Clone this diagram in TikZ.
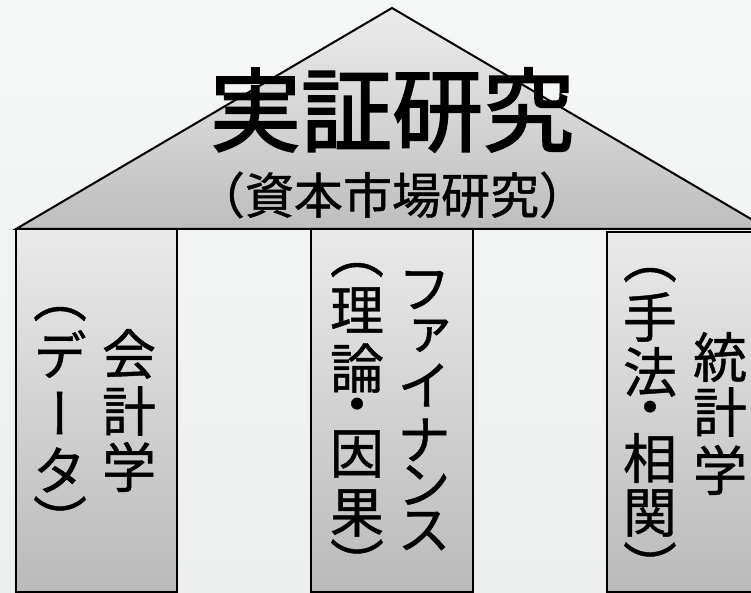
\documentclass[tikz,border=0pt]{standalone}
\usepackage{fontspec}
\newfontfamily\cjk{Noto Sans CJK JP}
\newfontfamily\cjkt[FakeBold=2]{Noto Sans CJK JP}
\newfontfamily\cjks[FakeBold=1]{Noto Sans CJK JP}
\newfontfamily\vcjk[RawFeature=+vert,FakeBold=0.8]{Noto Sans CJK JP}
\definecolor{bgtop}{RGB}{245,248,247}
\definecolor{bgbot}{RGB}{236,239,238}
\definecolor{pilltop}{RGB}{234,234,234}
\definecolor{pillbot}{RGB}{186,186,186}
\definecolor{rooftop}{RGB}{236,236,236}
\definecolor{roofbot}{RGB}{190,190,190}
\begin{document}
\begin{tikzpicture}[x=1pt,y=-1pt,
  roof/.style={draw=black,line width=2pt,line join=miter,top color=rooftop,bottom color=roofbot},
  pillar/.style={draw=black,line width=2pt,top color=pilltop,bottom color=pillbot},
  vch/.style={font=\vcjk\fontsize{54}{54}\selectfont,inner sep=0pt,text=black},
  titlebox/.style={font=\cjkt\fontsize{91}{91}\selectfont,inner sep=0pt},
  subbox/.style={font=\cjks\fontsize{49}{49}\selectfont,inner sep=0pt}]
\useasboundingbox (0,0) rectangle (751,593);
\clip (0,0) rectangle (751,593);
\shade[top color=bgtop,bottom color=bgbot] (0,0) rectangle (751,593);
% roof
\path[roof] (16,229) -- (392,8) -- (768,229) -- cycle;
% pillars
\path[pillar] (16,229) rectangle (177,592);
\path[pillar] (311,229) rectangle (473,592);
\path[pillar] (607,232) rectangle (768,592);
% roof text
\node[titlebox] (title) at (392,110) {実証研究};
\node[subbox] (sub) at (392,195) {（資本市場研究）};
% left pillar
\foreach \xx/\yy/\ch [count=\k] in {60/314/（,60/354/デ,60/413/ー,60/470/タ,60/519/）}
  \node[vch] (a\k) at (\xx,\yy) {\ch};
\foreach \xx/\yy/\ch [count=\k] in {129/354/会,129/411/計,129/467/学}
  \node[vch] (b\k) at (\xx,\yy) {\ch};
% middle pillar
\foreach \xx/\yy/\ch [count=\k] in {357/270/（,357/310/理,357/368/論,357/411/・,357/454/因,357/513/果,357/562/）}
  \node[vch] (c\k) at (\xx,\yy) {\ch};
\foreach \xx/\yy/\ch [count=\k] in {424/290/フ,424/337/ァ,424/385/イ,424/440/ナ,424/485/ン,424/531/ス}
  \node[vch] (d\k) at (\xx,\yy) {\ch};
% right pillar
\foreach \xx/\yy/\ch [count=\k] in {650/275/（,650/317/手,650/372/法,650/414/・,650/458/相,650/513/関,650/565/）}
  \node[vch] (e\k) at (\xx,\yy) {\ch};
\foreach \xx/\yy/\ch [count=\k] in {720/357/統,720/412/計,720/470/学}
  \node[vch] (f\k) at (\xx,\yy) {\ch};
\end{tikzpicture}
\end{document}
